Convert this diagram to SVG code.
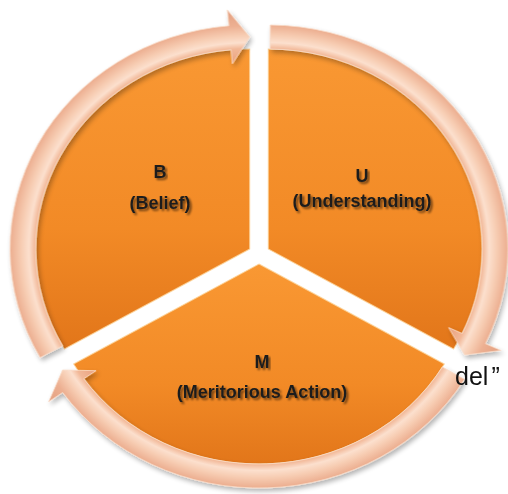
<svg xmlns="http://www.w3.org/2000/svg" width="508" height="494" viewBox="0 0 508 494">
<defs>
<style>
.wedge{stroke:#FCD49A;stroke-width:1;stroke-opacity:0.8}
.ring{fill:url(#ringGrad);stroke:#F9DCC8;stroke-width:0.8}
.lbl{font-family:"Liberation Sans",Arial,sans-serif;font-weight:bold;font-size:18px;fill:#1e1e1e;text-anchor:middle;filter:url(#tshadow)}
</style>
<linearGradient id="orangeGrad" x1="0" y1="0" x2="0" y2="1">
<stop offset="0" stop-color="#F99833"/>
<stop offset="0.6" stop-color="#F28A26"/>
<stop offset="1" stop-color="#E2761A"/>
</linearGradient>
<radialGradient id="ringGrad" gradientUnits="userSpaceOnUse" cx="0" cy="0" r="240">
<stop offset="0.775" stop-color="#E9A07E"/>
<stop offset="0.835" stop-color="#F2B898"/>
<stop offset="0.86" stop-color="#FCE0CE"/>
<stop offset="0.89" stop-color="#F7CDB3"/>
<stop offset="0.93" stop-color="#EDB092"/>
<stop offset="1" stop-color="#E39F80"/>
</radialGradient>
<filter id="shadow" x="-10%" y="-10%" width="120%" height="120%">
<feGaussianBlur in="SourceAlpha" stdDeviation="2.5"/>
<feOffset dx="2" dy="3" result="b"/>
<feComponentTransfer><feFuncA type="linear" slope="0.3"/></feComponentTransfer>
<feMerge><feMergeNode/><feMergeNode in="SourceGraphic"/></feMerge>
</filter>
<filter id="tshadow" x="-10%" y="-30%" width="120%" height="160%">
<feGaussianBlur in="SourceAlpha" stdDeviation="1.2"/>
<feOffset dx="1.5" dy="1.5"/>
<feComponentTransfer><feFuncA type="linear" slope="0.55"/></feComponentTransfer>
<feMerge><feMergeNode/><feMergeNode in="SourceGraphic"/></feMerge>
</filter>
</defs>
<rect width="508" height="494" fill="#FFFFFF"/>
<g id="node-B">
<path class="wedge" fill="url(#orangeGrad)" transform="translate(259,254) scale(1.07,1) translate(-8.66,-5)" d="M 0 0 L -173.21 100 A 200 200 0 0 1 0 -200 Z"/>
<text class="lbl" x="160" y="178">B</text>
<text class="lbl" x="160" y="209">(Belief)</text>
</g>
<g id="node-U">
<path class="wedge" fill="url(#orangeGrad)" transform="translate(259,254) scale(1.07,1) translate(8.66,-5)" d="M 0 0 L 0 -200 A 200 200 0 0 1 173.21 100 Z"/>
<text class="lbl" x="362" y="182">U</text>
<text class="lbl" x="362" y="207">(Understanding)</text>
</g>
<g id="node-M">
<path class="wedge" fill="url(#orangeGrad)" transform="translate(259,254) scale(1.07,1) translate(0,10)" d="M 0 0 L 173.21 100 A 200 200 0 0 1 -173.21 100 Z"/>
<text class="lbl" x="262" y="368">M</text>
<text class="lbl" x="262" y="398">(Meritorious Action)</text>
</g>
<g id="connectors" transform="translate(259,254) scale(1.07,1)" filter="url(#shadow)">
<path class="ring" transform="translate(-8.66,-5)" d="M -195.91 108.60 A 224 224 0 0 1 -19.52 -223.15 L -20.92 -239.09 L 0 -212 L -16.21 -185.29 L -17.43 -199.24 A 200 200 0 0 0 -174.92 96.96 Z"/>
<path class="ring" transform="translate(8.66,-5)" d="M 1.95 -223.99 A 224 224 0 0 1 203.01 94.67 L 217.51 101.43 L 183.60 106 L 168.57 78.61 L 181.26 84.52 A 200 200 0 0 0 1.75 -199.99 Z"/>
<path class="ring" transform="translate(0,10)" d="M 192.01 115.37 A 224 224 0 0 1 -183.49 128.48 L -196.60 137.66 L -183.60 106 L -152.36 106.69 L -163.83 114.72 A 200 200 0 0 0 171.43 103.01 Z"/>
</g>
<text x="455" y="385" font-family="Liberation Sans, Arial, sans-serif" font-size="25" fill="#111111">del<tspan dx="3">”</tspan></text>
</svg>
